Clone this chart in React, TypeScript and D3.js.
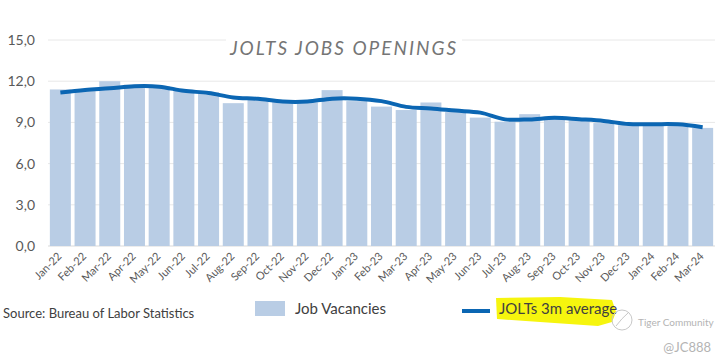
import React from 'react';
import * as d3 from 'd3';

const months = ['Jan-22','Feb-22','Mar-22','Apr-22','May-22','Jun-22','Jul-22','Aug-22','Sep-22','Oct-22','Nov-22','Dec-22','Jan-23','Feb-23','Mar-23','Apr-23','May-23','Jun-23','Jul-23','Aug-23','Sep-23','Oct-23','Nov-23','Dec-23','Jan-24','Feb-24','Mar-24'];
const vacancies = [11.4,11.35,12.0,11.75,11.65,11.3,11.2,10.4,10.65,10.5,10.45,11.35,10.55,10.15,9.9,10.45,9.75,9.35,9.05,9.6,9.35,9.15,8.95,8.8,8.75,8.75,8.6];
const avg3m = [11.17,11.36,11.48,11.63,11.6,11.3,11.14,10.82,10.72,10.52,10.52,10.73,10.73,10.55,10.13,10.02,9.86,9.71,9.22,9.22,9.33,9.23,9.11,8.88,8.87,8.86,8.65];
const yTicks = [0,3,6,9,12,15];
const fmt = (v: number) => v.toFixed(1).replace('.', ',');

export default function App() {
  const W = 725, H = 364;
  const left = 48, right = 715, top = 40, bottom = 246;
  const x = d3.scaleBand<string>().domain(months).range([left, right]).paddingInner(0.15).paddingOuter(0.075);
  const y = d3.scaleLinear().domain([0, 15]).range([bottom, top]);
  const line = d3.line<number>()
    .x((_, i) => (x(months[i]) as number) + x.bandwidth() / 2)
    .y(d => y(d))
    .curve(d3.curveCatmullRom.alpha(0.5));
  const font = 'Lato, "Open Sans", sans-serif';
  return (
    <svg width={W} height={H} style={{ position: 'absolute', left: 0, top: 0, background: '#fff' }} fontFamily={font}>
      <rect width={W} height={H} fill="#fff" />
      {yTicks.map(t => (
        <g key={t}>
          <line x1={left} x2={right} y1={y(t)} y2={y(t)} stroke={t === 0 ? '#d9d9d9' : '#e8e8e8'} strokeWidth={1} />
          <text x={35} y={y(t)} dy="0.35em" textAnchor="end" fontSize={14} fill="#595959">{fmt(t)}</text>
        </g>
      ))}
      {vacancies.map((v, i) => (
        <rect key={months[i]} x={x(months[i])} y={y(v)} width={x.bandwidth()} height={y(0) - y(v)} fill="#b9cde5" />
      ))}
      <path d={line(avg3m) || ''} fill="none" stroke="#0b66b3" strokeWidth={4} strokeLinejoin="round" strokeLinecap="butt" />
      {months.map(m => {
        const cx = (x(m) as number) + x.bandwidth() / 2 + 2;
        const cy = 257;
        return (
          <text key={m} x={cx} y={cy} transform={`rotate(-45 ${cx} ${cy})`} textAnchor="end" fontSize={11} fill="#595959">{m}</text>
        );
      })}
      <rect x={226} y={34} width={236} height={30} fill="#fff" />
      <text x={344} y={55} textAnchor="middle" fontSize={19} fontStyle="italic" letterSpacing={2} fill="#757575">JOLTS JOBS OPENINGS</text>
      <text x={3} y={318} fontSize={13} fill="#404040">Source: Bureau of Labor Statistics</text>
      <rect x={255} y={301} width={30} height={15} fill="#b9cde5" />
      <text x={295} y={314} fontSize={15} fill="#404040">Job Vacancies</text>
      <path d="M496,298 L560,297 L612,300 L616,312 L612,322 L598,326 L540,322 L497,319 Z" fill="#f6f50e" />
      <line x1={462} x2={490} y1={311} y2={311} stroke="#0b66b3" strokeWidth={4} />
      <text x={499} y={314} fontSize={15} fill="#404040">JOLTs 3m average</text>
      <circle cx={622} cy={320} r={10} fill="none" stroke="#c8c8c8" strokeWidth={1} />
      <path d="M616,326 Q622,318 628,313" fill="none" stroke="#c8c8c8" strokeWidth={1} />
      <text x={638} y={326} fontSize={10} fill="#b4b4b4">Tiger Community</text>
      <text x={711} y={352} textAnchor="end" fontSize={13} fill="#b4b4b4">@JC888</text>
    </svg>
  );
}
